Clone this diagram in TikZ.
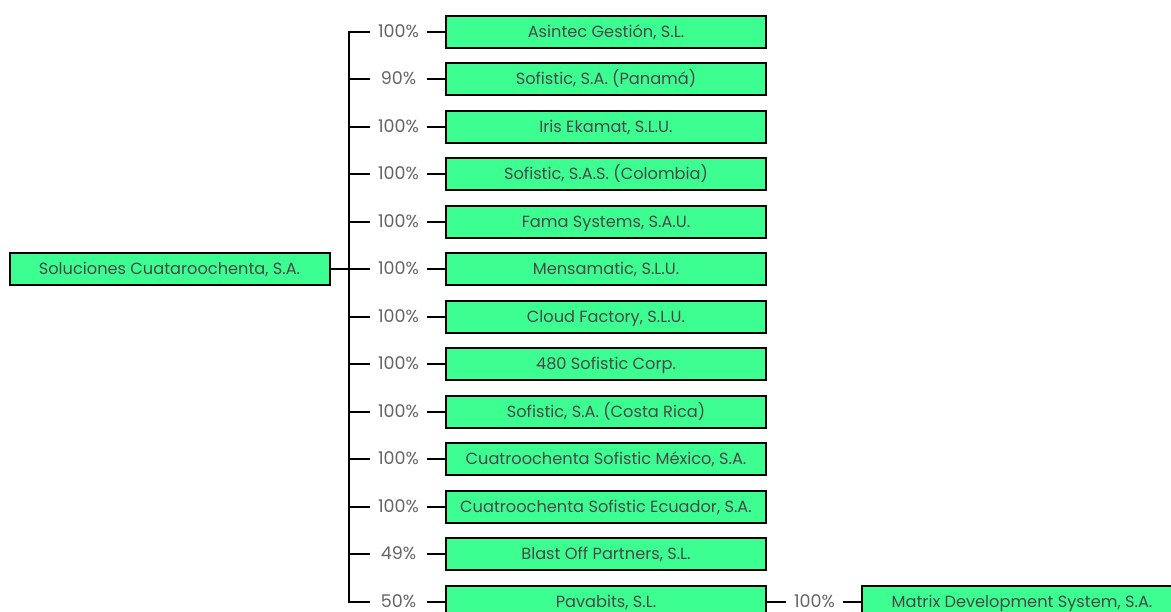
\documentclass[tikz,border=0pt]{standalone}
\usepackage{fontspec}
\setmainfont{Poppins}
\definecolor{boxgreen}{RGB}{61,255,145}
\definecolor{boxtext}{RGB}{72,72,72}
\definecolor{pcttext}{RGB}{100,100,100}
\begin{document}
\begin{tikzpicture}[x=1pt,y=-1pt,
  entity/.style={draw=black,line width=2pt,fill=boxgreen,minimum width=320pt,minimum height=32pt,inner sep=0pt,text height=14pt,text depth=3pt,text=boxtext,font=\fontsize{16.2}{18}\selectfont},
  pct/.style={minimum width=57pt,inner sep=0pt,text height=14pt,text depth=3pt,text=pcttext,font=\fontsize{17.5}{18}\selectfont},
  link/.style={line width=2pt,black}]
\useasboundingbox (0,0) rectangle (1171,612);
\clip (0,0) rectangle (1171,612);
\node[entity] (p) at (169.5,269) {Soluciones Cuataroochenta, S.A.};
\foreach \i/\y/\pc/\name in {
 1/32/100\%/{Asintec Gestión, S.L.},
 2/79/90\%/{Sofistic, S.A. (Panamá)},
 3/127/100\%/{Iris Ekamat, S.L.U.},
 4/174/100\%/{Sofistic, S.A.S. (Colombia)},
 5/222/100\%/{Fama Systems, S.A.U.},
 6/269/100\%/{Mensamatic, S.L.U.},
 7/317/100\%/{Cloud Factory, S.L.U.},
 8/364/100\%/{480 Sofistic Corp.},
 9/412/100\%/{Sofistic, S.A. (Costa Rica)},
 10/459/100\%/{Cuatroochenta Sofistic México, S.A.},
 11/507/100\%/{Cuatroochenta Sofistic Ecuador, S.A.},
 12/554/49\%/{Blast Off Partners, S.L.},
 13/602/50\%/{Pavabits, S.L.}}{
  \node[entity] (c\i) at (606,\y) {\name};
  \node[pct] (l\i) at (398.5,\y) {\pc};
  \draw[link] (l\i.east) -- (c\i.west);
}
\draw[link] (l1.west) -- ++(-21,0) |- (l13.west);
\foreach \i in {2,...,12}{\draw[link] (l\i.west) -- ++(-21,0);}
\draw[link] (p.east) -- (l6.west);
\node[pct] (lm) at (814.5,602) {100\%};
\node[entity] (m) at (1022,602) {Matrix Development System, S.A.};
\draw[link] (c13.east) -- (lm.west);
\draw[link] (lm.east) -- (m.west);
\end{tikzpicture}
\end{document}
